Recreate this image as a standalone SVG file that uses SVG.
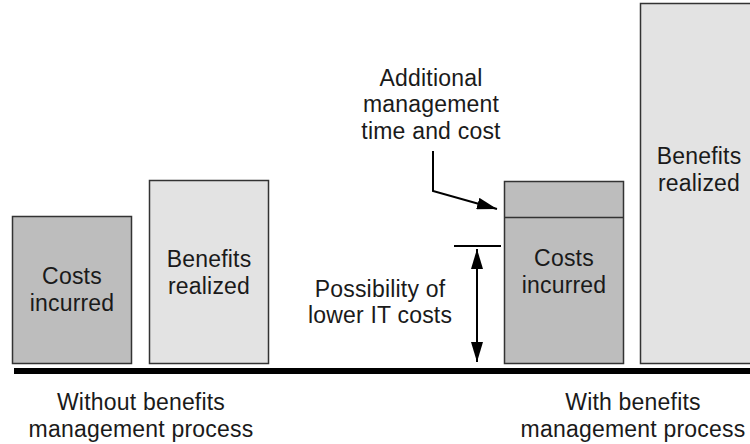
<svg xmlns="http://www.w3.org/2000/svg" width="750" height="444" viewBox="0 0 750 444">
<defs>
<style>
text{font-family:"Liberation Sans",Arial,sans-serif;font-size:23px;letter-spacing:0.2px;fill:#1a1a1a;text-anchor:middle}
.cost{fill:#bdbdbd;stroke:#333;stroke-width:1.5}
.ben{fill:#e3e3e3;stroke:#333;stroke-width:1.5}
.ln{stroke:#000;stroke-width:2;fill:none}
</style>
<marker id="ah2" viewBox="0 0 10 10" refX="10" refY="5" markerWidth="20" markerHeight="12" markerUnits="userSpaceOnUse" orient="auto-start-reverse" preserveAspectRatio="none">
<path d="M0,0 L10,5 L0,10 z" fill="#000"/>
</marker>
</defs>
<rect width="750" height="444" fill="#fff"/>
<g id="costs-without">
<rect class="cost" x="12.5" y="216.5" width="119" height="147"/>
<text x="72" y="284">Costs</text>
<text x="72" y="311">incurred</text>
</g>
<g id="benefits-without">
<rect class="ben" x="149.5" y="180.5" width="119" height="183"/>
<text x="209" y="267">Benefits</text>
<text x="209" y="294">realized</text>
</g>
<g id="costs-with">
<rect class="cost" x="504.5" y="181.5" width="119" height="182"/>
<line x1="504.5" y1="217.5" x2="623.5" y2="217.5" stroke="#333" stroke-width="1.5"/>
<text x="564" y="266">Costs</text>
<text x="564" y="293">incurred</text>
</g>
<g id="benefits-with">
<rect class="ben" x="640.5" y="3.5" width="120" height="360"/>
<text x="699" y="164">Benefits</text>
<text x="699" y="191">realized</text>
</g>
<g id="additional-label">
<text x="431" y="86">Additional</text>
<text x="431" y="112">management</text>
<text x="431" y="139">time and cost</text>
</g>
<g id="possibility-label">
<text x="380" y="297">Possibility of</text>
<text x="380" y="323">lower IT costs</text>
</g>
<g id="captions">
<text x="141" y="410">Without benefits</text>
<text x="141" y="437">management process</text>
<text x="633" y="410">With benefits</text>
<text x="633" y="437">management process</text>
</g>
<g id="connectors">
<rect x="14" y="368" width="736" height="6" fill="#000"/>
<polyline class="ln" points="433,151 433,191 497,209" marker-end="url(#ah2)"/>
<line x1="454" y1="246" x2="501" y2="246" stroke="#000" stroke-width="2"/>
<line class="ln" x1="477" y1="249" x2="477" y2="362" marker-start="url(#ah2)" marker-end="url(#ah2)"/>
</g>
</svg>
